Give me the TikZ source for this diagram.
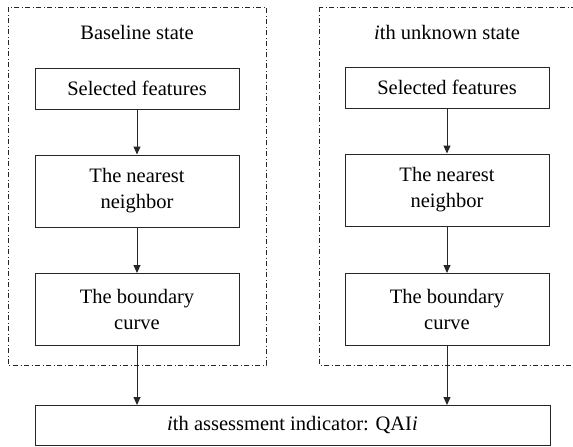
\documentclass[tikz,border=0pt]{standalone}
\usepackage{fontspec}
\setmainfont{Liberation Serif}
\usetikzlibrary{positioning}
\usetikzlibrary{arrows.meta}
\tikzset{
  stepbox/.style = {draw=black!85, line width=1pt, align=center,
    minimum width=204pt, inner sep=0pt,
    font=\fontsize{20.5}{26}\selectfont},
  shortbox/.style = {stepbox, minimum height=41pt},
  tallbox/.style = {stepbox, minimum height=72pt},
  widebox/.style = {stepbox, minimum width=515pt, minimum height=40pt},
  titletext/.style = {font=\fontsize{20.5}{26}\selectfont},
  frame/.style = {draw=black!85, line width=0.8pt,
    dash pattern=on 5pt off 2.5pt on 1pt off 2.5pt},
  flow/.style = {-{Triangle[length=8pt,width=7pt]}, line width=1pt,
    draw=black!85, fill=black!85}
}

\begin{document}
\begin{tikzpicture}[x=1pt, y=-1pt]
  \useasboundingbox (0,0) rectangle (573,447);
  \clip (0,0) rectangle (573,447);
  % dash-dot frames
  \draw[frame] (8,7) rectangle (266,365);
  \draw[frame] (319,7) rectangle (590,365);
  % baseline state
  \node[titletext] (titleA) at (137,32) {Baseline state};
  \node[shortbox] (featA) at (137,88.5) {Selected features};
  \node[tallbox] (nearA) at (137,191) {The nearest\\neighbor};
  \node[tallbox] (boundA) at (137,309.5) {The boundary\\curve};
  % ith unknown state
  \node[titletext] (titleB) at (447,32) {\textit{i}th unknown state};
  \node[shortbox] (featB) at (447,87.5) {Selected features};
  \node[tallbox] (nearB) at (447,190) {The nearest\\neighbor};
  \node[tallbox] (boundB) at (447,309.5) {The boundary\\curve};
  % indicator
  \node[widebox] (qai) at (292.5,425.5) {\textit{i}th assessment indicator: QAI\textit{i}};
  \draw[flow] (featA) -- (nearA);
  \draw[flow] (nearA) -- (boundA);
  \draw[flow] (featB) -- (nearB);
  \draw[flow] (nearB) -- (boundB);
  \draw[flow] (boundA) -- (boundA |- qai.north);
  \draw[flow] (boundB) -- (boundB |- qai.north);
\end{tikzpicture}
\end{document}
